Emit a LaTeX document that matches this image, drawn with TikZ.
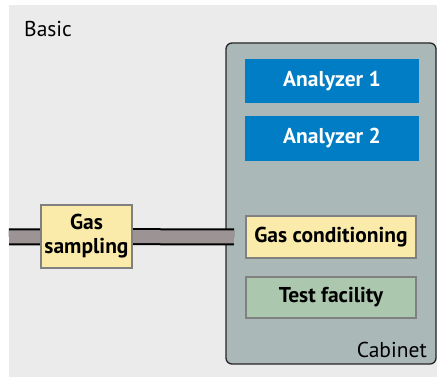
\documentclass[tikz,border=0pt]{standalone}
\usepackage{fontspec}
\setmainfont{PT Sans}
\definecolor{bgc}{HTML}{EBEBEB}
\definecolor{cabc}{HTML}{AAB8B8}
\definecolor{bluec}{HTML}{007DC5}
\definecolor{yelc}{HTML}{FAEBAA}
\definecolor{grnc}{HTML}{ABC8AF}
\definecolor{pipec}{HTML}{9C9494}
\definecolor{bordc}{HTML}{808080}
\pgfdeclarelayer{back}
\pgfdeclarelayer{mid}
\pgfsetlayers{back,mid,main}
\tikzset{
  box/.style={rectangle, inner sep=0pt, font=\fontsize{21.5}{24}\selectfont\bfseries, align=center},
  bluebox/.style={box, fill=bluec, text=white, minimum width=174pt, minimum height=44pt},
  yelbox/.style={box, fill=yelc, draw=bordc, line width=2pt, text=black},
  grnbox/.style={box, fill=grnc, draw=bordc, line width=2pt, text=black},
  pipeout/.style={line width=17pt, black},
  pipein/.style={line width=13pt, pipec},
  lbl/.style={font=\fontsize{21.5}{24}\selectfont, inner sep=0pt}
}
\begin{document}
\begin{tikzpicture}[x=1pt,y=-1pt]
\useasboundingbox (0,0) rectangle (437,377);
\begin{pgfonlayer}{back}
\fill[bgc] (9,5) rectangle (437,377);
\draw[rounded corners=6pt, fill=cabc, line width=1.3pt, draw=black!85] (226,43) rectangle (436,364);
\end{pgfonlayer}
\node[lbl, anchor=west] (basic) at (24,29) {Basic};
\node[lbl, anchor=east] (cabinet) at (427,350) {Cabinet};
\node[bluebox] (a1) at (332,81) {Analyzer 1};
\node[bluebox, minimum height=45pt] (a2) at (332,138.5) {Analyzer 2};
\node[yelbox, minimum width=170pt, minimum height=42pt] (gc) at (331,237) {Gas conditioning};
\node[grnbox, minimum width=170pt, minimum height=41pt] (tf) at (331,297.5) {Test facility};
\coordinate (pl) at (9,237);
\coordinate (pr) at (234,237);
\node[yelbox, minimum width=91pt, minimum height=63pt] (gs) at (86.5,236.5) {Gas\\sampling};
\begin{pgfonlayer}{mid}
\draw[pipeout] (pl) -- (gs.center) -- (pr);
\draw[pipein] (pl) -- (gs.center) -- (pr);
\end{pgfonlayer}
\end{tikzpicture}
\end{document}
